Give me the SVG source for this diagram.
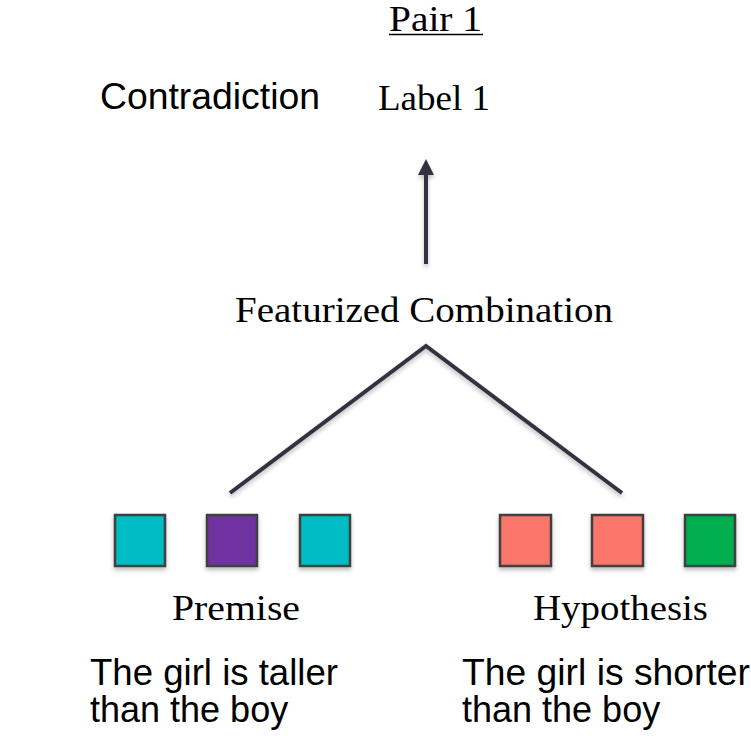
<svg xmlns="http://www.w3.org/2000/svg" width="751" height="738" viewBox="0 0 751 738">
<style>
.serif{font-family:"Liberation Serif","Times New Roman",serif;font-size:36px;fill:#000}
.sans{font-family:"Liberation Sans",Arial,sans-serif;font-size:36px;fill:#000}
.sq{stroke:#404040;stroke-width:2.5}
.ln{stroke:#333340;stroke-width:4;fill:none;stroke-linecap:butt}
</style>
<defs>
<filter id="sh" x="-20%" y="-20%" width="140%" height="150%">
<feDropShadow dx="0" dy="3" stdDeviation="2" flood-color="#000" flood-opacity="0.25"/>
</filter>
<marker id="ah" markerWidth="4" markerHeight="4" refX="0" refY="2" orient="auto" markerUnits="strokeWidth">
<path d="M0,0 L4,2 L0,4 Z" fill="#333340"/>
</marker>
</defs>
<rect width="751" height="738" fill="#fff"/>
<g id="title">
<text class="serif" x="389" y="31" textLength="93" lengthAdjust="spacingAndGlyphs">Pair 1</text>
<line x1="389" y1="34.5" x2="483" y2="34.5" stroke="#000" stroke-width="1.5"/>
</g>
<g id="contradiction"><text class="sans" x="100" y="109" textLength="220" lengthAdjust="spacingAndGlyphs">Contradiction</text></g>
<g id="label1"><text class="serif" x="378" y="110" textLength="112" lengthAdjust="spacingAndGlyphs">Label 1</text></g>
<g id="featurized"><text class="serif" x="235" y="322" textLength="378" lengthAdjust="spacingAndGlyphs">Featurized Combination</text></g>
<g id="connectors" filter="url(#sh)">
<line class="ln" x1="426" y1="264" x2="426" y2="175" marker-end="url(#ah)"/>
<polyline class="ln" points="230,493 426,346 622,493"/>
</g>
<g id="premise-vectors" filter="url(#sh)">
<rect class="sq" x="115" y="515" width="50" height="51" fill="#00BCC4"/>
<rect class="sq" x="207" y="515" width="50" height="51" fill="#7030A0"/>
<rect class="sq" x="300" y="515" width="50" height="51" fill="#00BCC4"/>
</g>
<g id="hypothesis-vectors" filter="url(#sh)">
<rect class="sq" x="500" y="515" width="51" height="51" fill="#FA756A"/>
<rect class="sq" x="592" y="515" width="51" height="51" fill="#FA756A"/>
<rect class="sq" x="685" y="515" width="50" height="51" fill="#00AD4F"/>
</g>
<g id="premise"><text class="serif" x="172" y="620" textLength="128" lengthAdjust="spacingAndGlyphs">Premise</text></g>
<g id="hypothesis"><text class="serif" x="533" y="620" textLength="175" lengthAdjust="spacingAndGlyphs">Hypothesis</text></g>
<g id="premise-text">
<text class="sans" x="90" y="685" textLength="248" lengthAdjust="spacingAndGlyphs">The girl is taller</text>
<text class="sans" x="90" y="722">than the boy</text>
</g>
<g id="hypothesis-text">
<text class="sans" x="462" y="685" textLength="288" lengthAdjust="spacingAndGlyphs">The girl is shorter</text>
<text class="sans" x="462" y="722">than the boy</text>
</g>
</svg>
